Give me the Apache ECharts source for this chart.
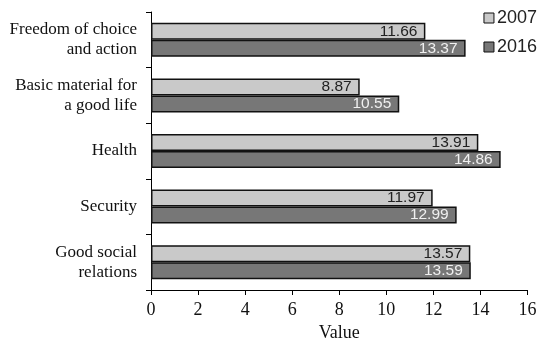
<!DOCTYPE html>
<html><head><meta charset="utf-8">
<script src="https://cdn.jsdelivr.net/npm/echarts@6/dist/echarts.min.js"></script>
<style>html,body{margin:0;padding:0;background:#fff}#c{width:550px;height:341px}</style>
</head><body><div id="c"></div>
<script>
const categories = ["Freedom of choice\nand action", "Basic material for\na good life", "Health", "Security", "Good social\nrelations"];
const values2007 = [11.66, 8.87, 13.91, 11.97, 13.57];
const values2016 = [13.37, 10.55, 14.86, 12.99, 13.59];
const xTicks = [0, 2, 4, 6, 8, 10, 12, 14, 16];

const chart = echarts.init(document.getElementById('c'));
const serif = '"Liberation Serif", "DejaVu Serif", serif';
const sans = '"Liberation Sans", Arial, sans-serif';
chart.setOption({
  animation: false,
  legend: {
    orient: 'vertical', right: 8, top: 4,
    icon: 'rect', itemWidth: 10, itemHeight: 10, itemGap: 11,
    itemStyle: { borderColor: '#111', borderWidth: 1 },
    textStyle: { fontFamily: sans, fontSize: 18, color: '#222', padding: [0, 0, 0, -2] },
    data: ['2007', '2016']
  },
  grid: { left: 151, right: 22.5, top: 12, bottom: 51, outerBoundsMode: 'none', containLabel: false },
  xAxis: {
    type: 'value', min: xTicks[0], max: xTicks[xTicks.length - 1], interval: 2,
    name: 'Value', nameLocation: 'middle', nameGap: 31,
    nameTextStyle: { fontFamily: serif, fontSize: 18, color: '#111' },
    axisLine: { show: true, lineStyle: { color: '#000', width: 1 } },
    axisTick: { show: true, length: 5, lineStyle: { color: '#000' } },
    axisLabel: { fontFamily: serif, fontSize: 18, color: '#111', margin: 11 },
    splitLine: { show: false }
  },
  yAxis: {
    type: 'category', data: categories, inverse: true,
    axisLine: { show: true, lineStyle: { color: '#000', width: 1 } },
    axisTick: { show: true, length: 5, lineStyle: { color: '#000' } },
    axisLabel: { fontFamily: serif, fontSize: 17, color: '#111', margin: 14, lineHeight: 20, align: 'right' }
  },
  series: [
    {
      name: '2007', type: 'bar', data: values2007, barWidth: 17, barGap: '0%',
      itemStyle: { color: '#c9c9c9', borderColor: '#111', borderWidth: 1.5 },
      label: { show: true, position: 'insideRight', distance: 8, fontFamily: sans, fontSize: 15.5, color: '#222' }
    },
    {
      name: '2016', type: 'bar', data: values2016, barWidth: 17, barGap: '0%',
      itemStyle: { color: '#777777', borderColor: '#111', borderWidth: 1.5 },
      label: { show: true, position: 'insideRight', distance: 8, fontFamily: sans, fontSize: 15.5, color: '#f0f0f0' }
    }
  ]
});
</script></body></html>
